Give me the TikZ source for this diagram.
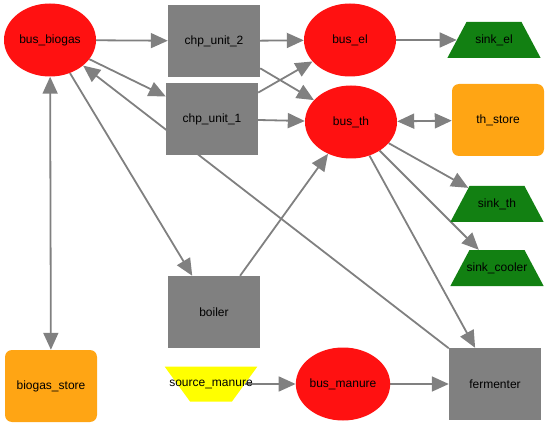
\documentclass[tikz,border=0pt]{standalone}
\usepackage{fontspec}
\setmainfont{Liberation Sans}
\usetikzlibrary{arrows.meta, shapes.geometric}

\pgfdeclarelayer{background}
\pgfsetlayers{background,main}

\definecolor{busred}{RGB}{255,17,17}
\definecolor{unitgray}{RGB}{128,128,128}
\definecolor{storeorange}{RGB}{255,165,20}
\definecolor{sinkgreen}{RGB}{18,128,18}
\definecolor{sourceyellow}{RGB}{255,255,0}
\definecolor{edgegray}{RGB}{128,128,128}

% Text box of fixed size, so the text does not change the shape
\newcommand{\fixedtext}[3]{\parbox[c][#2][c]{#1}{\centering\makebox[0pt]{#3}}}

\begin{document}
\begin{tikzpicture}[
    x=1pt, y=-1pt, % pixel units, y pointing down
    >={Triangle[length=17pt, width=15pt]}, % Set default arrow tip style
    every node/.style={font=\fontsize{12}{14}\selectfont},
    bus/.style={ellipse, fill=busred, minimum width=92pt, minimum height=73pt, inner sep=0pt}, % Style for buses
    unit/.style={rectangle, fill=unitgray, minimum width=92pt, minimum height=72pt, inner sep=0pt}, % Style for transformers
    store/.style={rectangle, rounded corners=7pt, fill=storeorange, minimum width=92pt, minimum height=72pt, inner sep=0pt}, % Style for storages
    sinkshape/.style={trapezium, trapezium angle=62, fill=sinkgreen, inner sep=0pt}, % Style for sinks
    sourceshape/.style={trapezium, shape border rotate=180, trapezium angle=54, fill=sourceyellow, inner sep=0pt}, % Style for sources
    flow/.style={->, draw=edgegray, line width=1.8pt} % Style for flows
]

    % Fix the picture size
    \useasboundingbox (0,0) rectangle (550,428);

    % Buses
    \node[bus] (bus-biogas) at (50,40) {bus\_biogas};
    \node[bus] (bus-el) at (350,40) {bus\_el};
    \node[bus] (bus-th) at (351,122) {bus\_th};
    \node[bus] (bus-manure) at (343,384) {bus\_manure};

    % Transformers
    \node[unit] (chp-two) at (214,41) {chp\_unit\_2};
    \node[unit] (chp-one) at (212,119) {chp\_unit\_1};
    \node[unit] (boiler) at (214,312) {boiler};
    \node[unit] (fermenter) at (495,384) {fermenter};

    % Storages
    \node[store] (th-store) at (498,120) {th\_store};
    \node[store] (biogas-store) at (51,386) {biogas\_store};

    % Sinks and source
    \node[sinkshape] (sink-el) at (494,40) {\fixedtext{55pt}{36pt}{sink\_el}};
    \node[sinkshape] (sink-th) at (497,204) {\fixedtext{55pt}{36pt}{sink\_th}};
    \node[sinkshape] (sink-cooler) at (497,268) {\fixedtext{55pt}{36pt}{sink\_cooler}};
    \node[sourceshape] (source-manure) at (211,384) {\fixedtext{42pt}{35pt}{source\_manure}};

    % Flows, drawn behind the nodes
    \begin{pgfonlayer}{background}
        \foreach \a/\b in {bus-biogas/chp-two, bus-biogas/chp-one, bus-biogas/boiler,
                           chp-two/bus-el, chp-two/bus-th, chp-one/bus-el, chp-one/bus-th,
                           boiler/bus-th, bus-el/sink-el, bus-th/sink-th, bus-th/sink-cooler,
                           bus-th/fermenter, fermenter/bus-biogas,
                           source-manure/bus-manure, bus-manure/fermenter} {
            \draw[flow] (\a) -- (\b);
        }
        % Storage links go both ways
        \draw[flow, <->] (bus-th) -- (th-store);
        \draw[flow, <->] (bus-biogas) -- (biogas-store);
    \end{pgfonlayer}

\end{tikzpicture}
\end{document}
